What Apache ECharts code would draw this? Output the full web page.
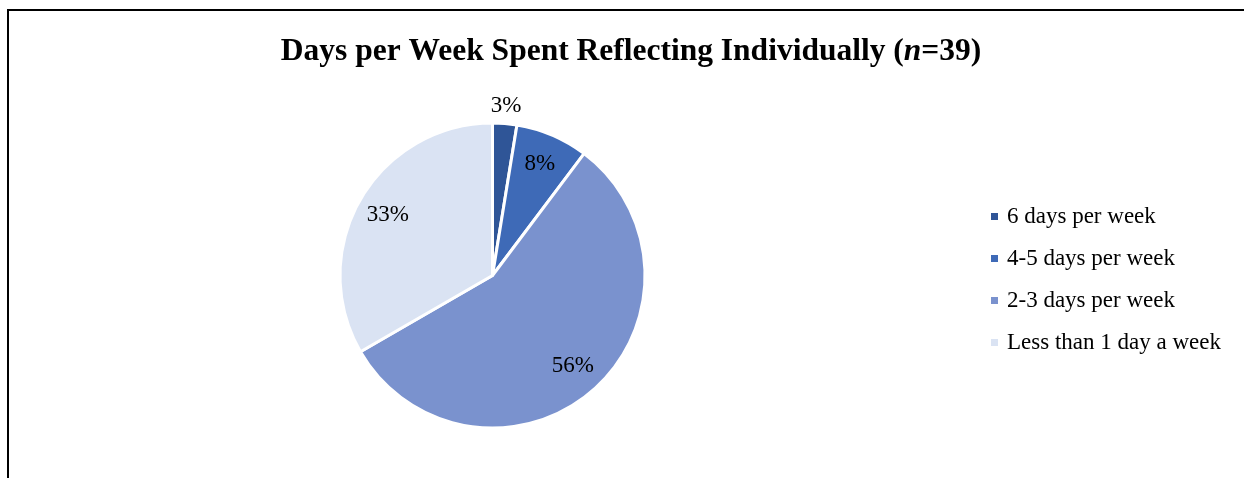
<!DOCTYPE html>
<html>
<head>
<meta charset="utf-8">
<script src="https://cdn.jsdelivr.net/npm/echarts@6/dist/echarts.min.js"></script>
<style>
html,body{margin:0;padding:0;background:#fff;}
#chart{width:1244px;height:478px;}
</style>
</head>
<body>
<div id="chart"></div>
<script>
const categories = ['6 days per week', '4-5 days per week', '2-3 days per week', 'Less than 1 day a week'];
const counts = [1, 3, 22, 13];
const colors = ['#2F5597', '#3E6AB7', '#7A92CE', '#DAE3F3'];
const titleText = 'Days per Week Spent Reflecting Individually (';

const font = 'Liberation Serif, Times New Roman, serif';
const chart = echarts.init(document.getElementById('chart'));

const baseData = categories.map((c, i) => ({ name: c, value: counts[i], itemStyle: { color: colors[i] } }));
const innerLabelData = categories.map((c, i) => ({ name: c, value: counts[i], label: { show: i !== 0 } }));
const outerLabelData = categories.map((c, i) => ({ name: c, value: counts[i], label: { show: i === 0 } }));

const labelCommon = {
  position: 'inside',
  formatter: '{d}%',
  fontFamily: font,
  fontSize: 23,
  color: '#000'
};

chart.setOption({
  animation: false,
  backgroundColor: '#fff',
  title: {
    text: '{b|' + titleText + '}{i|n}{b|=39)}',
    left: 626,
    textAlign: 'center',
    top: 31,
    textStyle: {
      rich: {
        b: { fontFamily: font, fontWeight: 'bold', fontSize: 31.5, color: '#000' },
        i: { fontFamily: font, fontWeight: 'bold', fontStyle: 'italic', fontSize: 31.5, color: '#000' }
      }
    }
  },
  legend: {
    orient: 'vertical',
    left: 984,
    top: 200,
    itemWidth: 9,
    itemHeight: 9,
    itemGap: 19,
    icon: 'rect',
    data: categories,
    textStyle: { fontFamily: font, fontSize: 23, color: '#000', lineHeight: 23, padding: [0, 0, 0, 3] }
  },
  graphic: [{
    type: 'polyline',
    shape: { points: [[8, 478], [8, 10], [1244, 10]] },
    style: { stroke: '#000', lineWidth: 2, fill: null }
  }],
  series: [
    {
      type: 'pie',
      center: [492.5, 275.5],
      radius: [0, 152.5],
      startAngle: 90,
      clockwise: true,
      percentPrecision: 0,
      label: { show: false },
      labelLine: { show: false },
      itemStyle: { borderColor: '#fff', borderWidth: 3 },
      emphasis: { disabled: true },
      data: baseData
    },
    {
      type: 'pie',
      center: [492.5, 275.5],
      radius: [84, 152],
      startAngle: 90,
      clockwise: true,
      silent: true,
      percentPrecision: 0,
      itemStyle: { color: 'rgba(0,0,0,0)' },
      label: labelCommon,
      labelLine: { show: false },
      emphasis: { disabled: true },
      data: innerLabelData
    },
    {
      type: 'pie',
      center: [492.5, 275.5],
      radius: [152.5, 182],
      startAngle: 90,
      clockwise: true,
      silent: true,
      percentPrecision: 0,
      itemStyle: { color: 'rgba(0,0,0,0)' },
      label: labelCommon,
      labelLine: { show: false },
      emphasis: { disabled: true },
      data: outerLabelData
    }
  ]
});
</script>
</body>
</html>
